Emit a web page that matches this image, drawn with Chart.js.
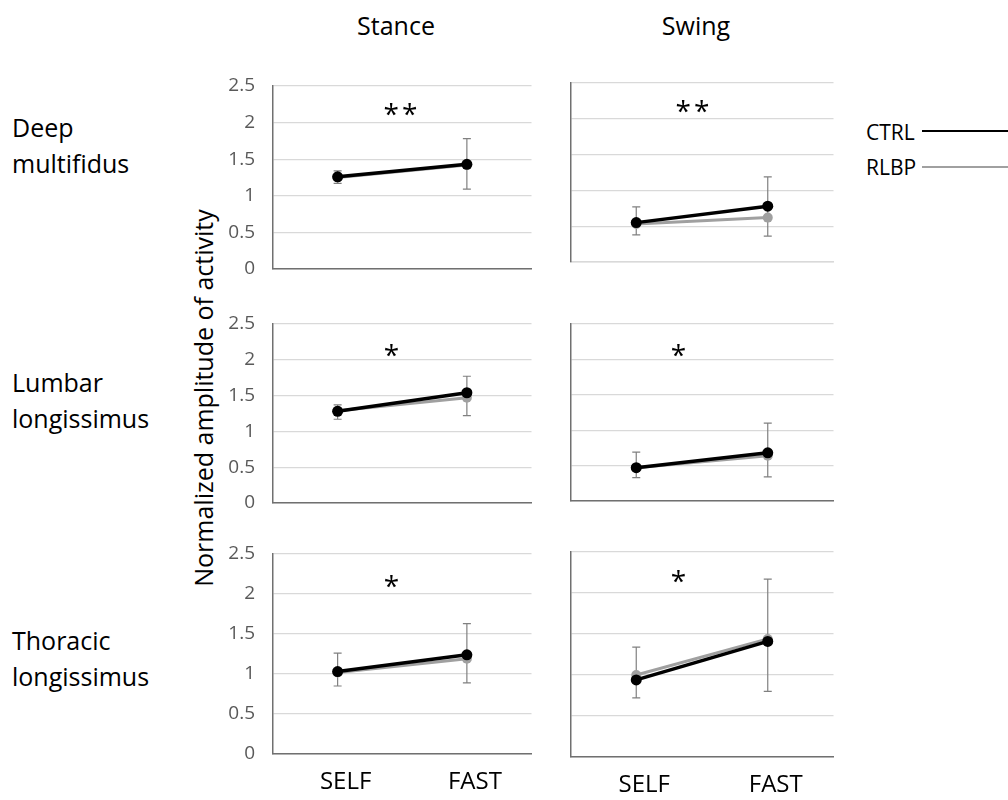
<!DOCTYPE html>
<html>
<head>
<meta charset="utf-8">
<script src="https://cdn.jsdelivr.net/npm/chart.js@4.4.1/dist/chart.umd.min.js"></script>
<style>
  body { margin: 0; background: #fff; font-family: 'Open Sans', sans-serif; color: #000; }
  #page { position: relative; width: 1008px; height: 800px; overflow: hidden; }
  .txt { position: absolute; white-space: nowrap; line-height: 1; }
  .center { transform: translate(-50%, -50%); }
  .row { position: absolute; left: 12px; font-size: 25px; line-height: 36px; }
  .star { position: absolute; font-size: 28px; line-height: 1; letter-spacing: 3px; transform: translate(-50%, -50%); }
  .panel { position: absolute; }
  .legline { position: absolute; height: 2px; }
</style>
</head>
<body>
<div id="page">
  <div class="txt center" style="left:396px; top:25px; font-size:25px;">Stance</div>
  <div class="txt center" style="left:696px; top:25px; font-size:25px;">Swing</div>

  <div class="row" style="top:109px;">Deep<br>multifidus</div>
  <div class="row" style="top:364px;">Lumbar<br>longissimus</div>
  <div class="row" style="top:622px;">Thoracic<br>longissimus</div>

  <div class="txt" style="left:203px; top:398px; font-size:25px; transform: translate(-50%, -50%) rotate(-90deg);">Normalized amplitude of activity</div>

  <div class="txt" style="left:866px; top:122px; font-size:21px;">CTRL</div>
  <div class="legline" style="left:922px; top:130px; width:86px; background:#000;"></div>
  <div class="txt" style="left:866px; top:157px; font-size:21px;">RLBP</div>
  <div class="legline" style="left:922px; top:166px; width:86px; background:#a0a0a0;"></div>
</div>

<script>
// x categories and y ticks
const categories = ['SELF', 'FAST'];
const yTicks = [0, 0.5, 1, 1.5, 2, 2.5];

// rows: deep multifidus, lumbar longissimus, thoracic longissimus
const ctrlStance = [[1.26, 1.43], [1.28, 1.54], [1.03, 1.24]];
const rlbpStance = [[1.25, 1.42], [1.29, 1.47], [1.02, 1.19]];
const ctrlSwing = [[0.55, 0.78], [0.47, 0.68], [0.94, 1.41]];
const rlbpSwing = [[0.53, 0.62], [0.47, 0.64], [1.00, 1.44]];

// error bar ends (SELF, FAST)
const errLowStance = [[1.17, 1.09], [1.17, 1.22], [0.85, 0.89]];
const errHighStance = [[1.34, 1.78], [1.37, 1.77], [1.26, 1.63]];
const errLowSwing = [[0.38, 0.36], [0.33, 0.34], [0.72, 0.80]];
const errHighSwing = [[0.77, 1.19], [0.69, 1.10], [1.34, 2.17]];

const sigStance = ['**', '*', '*'];
const sigSwing = ['**', '*', '*'];

Chart.defaults.font.family = "'Open Sans', sans-serif";

const errorBars = {
  id: 'errorBars',
  beforeDatasetsDraw(chart, args, opts) {
    const { ctx, scales: { x, y } } = chart;
    ctx.save();
    ctx.strokeStyle = '#808080';
    ctx.lineWidth = 1.2;
    opts.low.forEach((lo, i) => {
      const px = x.getPixelForValue(i);
      const y1 = y.getPixelForValue(lo);
      const y2 = y.getPixelForValue(opts.high[i]);
      ctx.beginPath();
      ctx.moveTo(px, y1); ctx.lineTo(px, y2);
      ctx.moveTo(px - 4, y1); ctx.lineTo(px + 4, y1);
      ctx.moveTo(px - 4, y2); ctx.lineTo(px + 4, y2);
      ctx.stroke();
    });
    ctx.restore();
  }
};

// plot boxes in page pixels
const colBox = [{ left: 273, width: 260 }, { left: 567, width: 268 }];
const rowBox = [
  [{ top: 86, bottom: 269 }, { top: 83, bottom: 262 }],
  [{ top: 324, bottom: 503 }, { top: 324, bottom: 501 }],
  [{ top: 554, bottom: 754 }, { top: 552, bottom: 757 }]
];
const starPos = [
  [[402, 113], [694, 110]],
  [[393, 354], [680, 354]],
  [[393, 585], [680, 580]]
];

const page = document.getElementById('page');

function makePanel(row, col) {
  const isLeft = col === 0;
  const isBottom = row === 2;
  const yW = isLeft ? 50 : 0;
  const padL = isLeft ? 0 : 2;
  // tick labels add (half label height + tick padding) of overflow on the left axis
  const padT = isLeft ? 32 : 14;
  const padR = 4;
  const padB = isBottom ? 4 : (isLeft ? 32 : 14);
  const xH = isBottom ? 52 : 0;
  const box = rowBox[row][col];
  const plotH = box.bottom - box.top;
  const plotW = colBox[col].width;

  const wrap = document.createElement('div');
  wrap.className = 'panel';
  wrap.style.left = (colBox[col].left - yW - padL) + 'px';
  wrap.style.top = (box.top - padT) + 'px';
  const canvas = document.createElement('canvas');
  canvas.width = padL + yW + plotW + padR;
  canvas.height = padT + plotH + xH + padB;
  wrap.appendChild(canvas);
  page.appendChild(wrap);

  const ctrl = (isLeft ? ctrlStance : ctrlSwing)[row];
  const rlbp = (isLeft ? rlbpStance : rlbpSwing)[row];
  const low = (isLeft ? errLowStance : errLowSwing)[row];
  const high = (isLeft ? errHighStance : errHighSwing)[row];
  const baseColor = (row === 0 && !isLeft) ? '#d9d9d9' : '#707070';

  new Chart(canvas, {
    type: 'line',
    data: {
      labels: categories,
      datasets: [
        {
          label: 'CTRL',
          data: ctrl,
          borderColor: '#000',
          backgroundColor: '#000',
          borderWidth: 3.5,
          pointRadius: 5.5,
          pointBackgroundColor: '#000',
          pointBorderWidth: 0
        },
        {
          label: 'RLBP',
          data: rlbp,
          borderColor: '#a0a0a0',
          backgroundColor: '#a0a0a0',
          borderWidth: 3,
          pointRadius: 5,
          pointBackgroundColor: '#a0a0a0',
          pointBorderWidth: 0
        }
      ]
    },
    options: {
      responsive: false,
      animation: false,
      layout: { padding: { top: padT, right: padR, bottom: padB, left: padL } },
      plugins: {
        legend: { display: false },
        tooltip: { enabled: false },
        errorBars: { low, high }
      },
      scales: {
        x: {
          offset: true,
          grid: { display: false, drawTicks: false },
          border: { display: true, color: baseColor, width: 1.5 },
          ticks: {
            display: isBottom,
            color: '#000',
            font: { size: 24 },
            padding: 14,
            labelOffset: 8,
            maxRotation: 0
          },
          afterFit: (s) => { s.height = xH; }
        },
        y: {
          min: yTicks[0],
          max: yTicks[yTicks.length - 1],
          afterBuildTicks: (s) => { s.ticks = yTicks.map(v => ({ value: v })); },
          grid: { color: '#d9d9d9', lineWidth: 1.3, drawTicks: false },
          border: { display: true, color: '#707070', width: 1.5 },
          ticks: {
            display: isLeft,
            color: '#595959',
            font: { size: 19 },
            padding: 18,
            callback: (v) => String(v)
          },
          afterFit: (s) => { s.width = yW; }
        }
      }
    },
    plugins: [errorBars]
  });

  const star = document.createElement('div');
  star.className = 'star';
  star.textContent = (isLeft ? sigStance : sigSwing)[row];
  star.style.left = starPos[row][col][0] + 'px';
  star.style.top = starPos[row][col][1] + 'px';
  page.appendChild(star);
}

for (let r = 0; r < 3; r++) {
  for (let c = 0; c < 2; c++) makePanel(r, c);
}
</script>
</body>
</html>
